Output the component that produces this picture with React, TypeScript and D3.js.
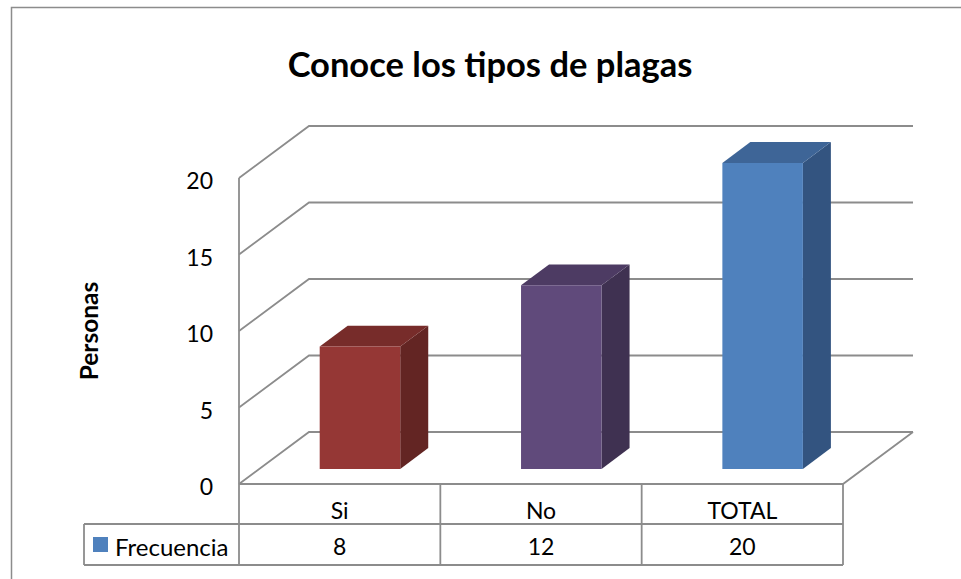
import React, { useEffect, useRef } from 'react';
import * as d3 from 'd3';

const categories = ['Si', 'No', 'TOTAL'];
const frecuencia = [8, 12, 20];
const yTicks = [0, 5, 10, 15, 20];
const seriesName = 'Frecuencia';
const title = 'Conoce los tipos de plagas';
const yTitle = 'Personas';

const barColors = [
  { front: '#953735', side: '#632523', top: '#772c2a' },
  { front: '#604a7b', side: '#3f3151', top: '#4d3b63' },
  { front: '#4f81bd', side: '#335480', top: '#3e6597' }
];

export default () => {
  const svgRef = useRef<SVGSVGElement>(null);
  const width = 961;
  const height = 579;

  const left = 239;
  const right = 843;
  const floorY = 484;
  const topY = 178;
  const depthX = 70;
  const depthY = -52;
  const gridColor = '#8c8c8c';
  const font = 'Lato, "Open Sans", sans-serif';

  useEffect(() => {
    if (!svgRef.current) {
      return;
    }
    const svg = d3.select(svgRef.current);
    svg.selectAll('*').remove();

    const y = d3.scaleLinear().domain([0, 20]).range([floorY, topY]);
    const x = d3.scaleBand<string>().domain(categories).range([left, right]);
    // depth 0 = front plane, 1 = back wall
    const px = (xv: number, d: number) => xv + depthX * d;
    const py = (yv: number, d: number) => yv + depthY * d;

    // outer frame
    svg.append('rect')
      .attr('x', 11.5).attr('y', 7.5)
      .attr('width', 1200).attr('height', 1200)
      .attr('fill', 'none')
      .attr('stroke', gridColor)
      .attr('stroke-width', 1.5);

    // title
    svg.append('text')
      .text(title)
      .attr('x', 490).attr('y', 63)
      .attr('text-anchor', 'middle')
      .attr('dominant-baseline', 'central')
      .attr('style', `font-family: ${font}; font-size: 34.5px; font-weight: bold; fill: #000;`);

    // grid: back wall horizontals + side wall diagonals
    const grid = svg.append('g')
      .attr('fill', 'none')
      .attr('stroke', gridColor)
      .attr('stroke-width', 1.8);

    yTicks.forEach(t => {
      const path = d3.path();
      path.moveTo(left, y(t));
      path.lineTo(px(left, 1), py(y(t), 1));
      path.lineTo(px(right, 1), py(y(t), 1));
      grid.append('path').attr('d', path.toString());
    });

    // front vertical axis (down through table)
    grid.append('line')
      .attr('x1', left).attr('y1', y(20))
      .attr('x2', left).attr('y2', 565);

    // floor front + right diagonal
    const floor = d3.path();
    floor.moveTo(left, floorY);
    floor.lineTo(right, floorY);
    floor.lineTo(px(right, 1), py(floorY, 1));
    grid.append('path').attr('d', floor.toString());

    // tick labels
    svg.append('g')
      .selectAll('text')
      .data(yTicks)
      .enter()
      .append('text')
      .text(d => String(d))
      .attr('x', 213)
      .attr('y', d => y(d) + 2)
      .attr('text-anchor', 'end')
      .attr('dominant-baseline', 'central')
      .attr('style', `font-family: ${font}; font-size: 23px; fill: #000;`);

    // y title
    svg.append('text')
      .text(yTitle)
      .attr('transform', 'translate(88, 331) rotate(-90)')
      .attr('text-anchor', 'middle')
      .attr('dominant-baseline', 'central')
      .attr('style', `font-family: ${font}; font-size: 24.5px; font-weight: bold; fill: #000;`);

    // 3D bars
    const dFront = 0.29;
    const dBack = 0.69;
    const barW = x.bandwidth() * 0.4;
    const bars = svg.append('g');
    categories.forEach((c, i) => {
      const v = frecuencia[i];
      const x0 = (x(c) || 0) + (x.bandwidth() - barW) / 2;
      const x1 = x0 + barW;
      const col = barColors[i];
      const poly = (pts: [number, number][], fill: string) => {
        bars.append('polygon')
          .attr('points', pts.map(p => p.join(',')).join(' '))
          .attr('fill', fill);
      };
      // side face
      poly([
        [px(x1, dFront), py(y(0), dFront)],
        [px(x1, dBack), py(y(0), dBack)],
        [px(x1, dBack), py(y(v), dBack)],
        [px(x1, dFront), py(y(v), dFront)]
      ], col.side);
      // top face
      poly([
        [px(x0, dFront), py(y(v), dFront)],
        [px(x0, dBack), py(y(v), dBack)],
        [px(x1, dBack), py(y(v), dBack)],
        [px(x1, dFront), py(y(v), dFront)]
      ], col.top);
      // front face
      poly([
        [px(x0, dFront), py(y(0), dFront)],
        [px(x1, dFront), py(y(0), dFront)],
        [px(x1, dFront), py(y(v), dFront)],
        [px(x0, dFront), py(y(v), dFront)]
      ], col.front);
    });

    // data table
    const table = svg.append('g')
      .attr('fill', 'none')
      .attr('stroke', gridColor)
      .attr('stroke-width', 1.8);
    const rowMid = 524;
    const rowBottom = 565;
    const legendLeft = 84;

    table.append('line')
      .attr('x1', legendLeft).attr('y1', rowMid)
      .attr('x2', right).attr('y2', rowMid);
    table.append('line')
      .attr('x1', legendLeft).attr('y1', rowBottom)
      .attr('x2', right).attr('y2', rowBottom);
    table.append('line')
      .attr('x1', legendLeft).attr('y1', rowMid)
      .attr('x2', legendLeft).attr('y2', rowBottom);
    categories.forEach(c => {
      const xr = (x(c) || 0) + x.bandwidth();
      table.append('line')
        .attr('x1', xr).attr('y1', floorY)
        .attr('x2', xr).attr('y2', rowBottom);
    });

    const cellText = svg.append('g')
      .attr('style', `font-family: ${font}; font-size: 23px; fill: #000;`);
    cellText.selectAll('text.cat')
      .data(categories)
      .enter()
      .append('text')
      .attr('class', 'cat')
      .text(d => d)
      .attr('x', d => (x(d) || 0) + x.bandwidth() / 2)
      .attr('y', 510)
      .attr('text-anchor', 'middle')
      .attr('dominant-baseline', 'central');
    cellText.selectAll('text.val')
      .data(frecuencia)
      .enter()
      .append('text')
      .attr('class', 'val')
      .text(d => String(d))
      .attr('x', (d, i) => (x(categories[i]) || 0) + x.bandwidth() / 2)
      .attr('y', 546)
      .attr('text-anchor', 'middle')
      .attr('dominant-baseline', 'central');

    // legend key
    svg.append('rect')
      .attr('x', 93).attr('y', 537)
      .attr('width', 15).attr('height', 15)
      .attr('fill', barColors[2].front);
    cellText.append('text')
      .text(seriesName)
      .attr('x', 115)
      .attr('y', 546)
      .attr('dominant-baseline', 'central')
      .attr('style', `font-size: 24px;`);
  }, []);

  return (
    <svg
      ref={svgRef}
      width={width}
      height={height}
      style={{ position: 'absolute', left: 0, top: 0, background: '#fff' }}
    />
  );
};
